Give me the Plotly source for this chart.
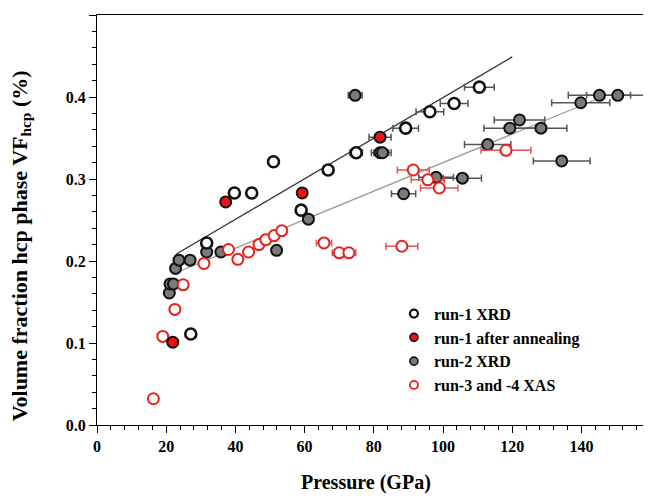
import plotly.graph_objects as go

# ---- data ----
run1_p = [27.1, 31.7, 39.7, 44.7, 51.0, 59.0, 66.8, 74.9, 89.2, 96.2, 103.2, 110.5]
run1_v = [0.111, 0.222, 0.283, 0.283, 0.321, 0.262, 0.311, 0.332, 0.362, 0.382, 0.392, 0.412]
run1_e = [0, 0, 1.2, 0, 0, 0, 1.5, 1.8, 3.7, 4.0, 4.0, 4.3]

ann_p = [21.9, 37.2, 59.3, 81.8]
ann_v = [0.101, 0.272, 0.283, 0.351]
ann_e = [0, 0, 0, 3.2]

run2_p = [20.9, 21.1, 22.1, 22.7, 23.7, 26.9, 31.7, 35.8, 51.9, 61.1, 74.6, 81.8, 82.5,
          88.6, 98.0, 105.6, 112.9, 119.3, 122.1, 128.3, 134.3, 139.8, 145.2, 150.5]
run2_v = [0.161, 0.172, 0.172, 0.191, 0.201, 0.201, 0.211, 0.211, 0.213, 0.251, 0.402, 0.332, 0.332,
          0.282, 0.302, 0.301, 0.342, 0.362, 0.372, 0.362, 0.322, 0.393, 0.402, 0.402]
run2_e = [0, 0, 0, 0, 0, 0, 0, 0, 0, 0, 2.0, 2.5, 2.5,
          3.5, 5.0, 5.5, 6.7, 7.5, 7.3, 7.5, 8.2, 8.4, 9.0, 9.0]

xas_p = [16.3, 19.0, 22.5, 24.9, 30.9, 38.0, 40.7, 43.8, 46.8, 48.8, 51.2, 53.4,
         65.6, 70.0, 72.8, 88.1, 91.4, 95.6, 98.9, 118.2]
xas_v = [0.032, 0.108, 0.141, 0.171, 0.197, 0.214, 0.202, 0.211, 0.220, 0.226, 0.231, 0.237,
         0.222, 0.210, 0.210, 0.218, 0.311, 0.299, 0.289, 0.335]
xas_e = [0, 0, 0, 0, 0, 0, 0, 0, 0, 0, 0, 0,
         2.2, 2.0, 2.0, 4.6, 4.6, 4.8, 5.4, 7.2]

fit1_p = [22.7, 120.0]
fit1_v = [0.208, 0.449]
fit2_p = [23.0, 146.0]
fit2_v = [0.186, 0.400]

legend_names = ["run-1 XRD", "run-1 after annealing", "run-2 XRD", "run-3 and -4 XAS"]
x_title = "Pressure (GPa)"
y_title = "Volume fraction hcp phase VF<sub>hcp</sub> (%)"

FONT = "Liberation Serif"

fig = go.Figure()

# fit lines
fig.add_trace(go.Scatter(x=fit1_p, y=fit1_v, mode="lines",
                         line=dict(color="#333333", width=1.3), showlegend=False, hoverinfo="skip"))
fig.add_trace(go.Scatter(x=fit2_p, y=fit2_v, mode="lines",
                         line=dict(color="#999999", width=1.3), showlegend=False, hoverinfo="skip"))

def err(arr, color):
    return dict(type="data", array=arr, visible=True, color=color, thickness=1.5, width=3.5)

fig.add_trace(go.Scatter(x=run2_p, y=run2_v, mode="markers", showlegend=False,
                         error_x=err(run2_e, "#555555"),
                         marker=dict(size=11, color="#7a7a7a", line=dict(color="#111111", width=2))))
fig.add_trace(go.Scatter(x=xas_p, y=xas_v, mode="markers", showlegend=False,
                         error_x=err(xas_e, "#dd5555"),
                         marker=dict(size=11, color="white", line=dict(color="#e8201c", width=2))))
fig.add_trace(go.Scatter(x=run1_p, y=run1_v, mode="markers", showlegend=False,
                         error_x=err(run1_e, "#555555"),
                         marker=dict(size=11, color="white", line=dict(color="#111111", width=2.6))))
fig.add_trace(go.Scatter(x=ann_p, y=ann_v, mode="markers", showlegend=False,
                         error_x=err(ann_e, "#555555"),
                         marker=dict(size=11, color="#ee1111", line=dict(color="#111111", width=2))))

# legend-only entries
leg_styles = [
    dict(size=8, color="white", line=dict(color="#111111", width=2.2)),
    dict(size=8, color="#ee1111", line=dict(color="#111111", width=1.6)),
    dict(size=8, color="#7a7a7a", line=dict(color="#111111", width=1.6)),
    dict(size=8, color="white", line=dict(color="#e8201c", width=1.8)),
]
for name, st in zip(legend_names, leg_styles):
    fig.add_trace(go.Scatter(x=[None], y=[None], mode="markers", name=name, marker=st))

# page body has an 8px margin: compensate so the plot area lands at x 97..651, y 15..425
fig.update_layout(
    width=651, height=500,
    margin=dict(l=89, r=8, t=7, b=83),
    paper_bgcolor="white", plot_bgcolor="white",
    font=dict(family=FONT, size=16, color="black", weight="bold"),
    legend=dict(x=0.536, y=0.313, xanchor="left", yanchor="top",
                bgcolor="rgba(0,0,0,0)", font=dict(family=FONT, size=16, weight="bold"),
                tracegroupgap=0, itemwidth=30),
    xaxis=dict(range=[0, 160.1], dtick=20, tick0=0, automargin=False,
               showline=True, linecolor="black", linewidth=1.3, mirror=True,
               ticks="outside", ticklen=7, tickwidth=1.2, tickcolor="black",
               showgrid=False, zeroline=False,
               minor=dict(dtick=4, ticks="outside", ticklen=4, tickwidth=1, tickcolor="black"),
               tickfont=dict(family=FONT, size=16, weight="bold")),
    yaxis=dict(range=[0, 0.5], dtick=0.1, tick0=0, tickformat=".1f", automargin=False,
               showline=True, linecolor="black", linewidth=1.3,
               ticks="outside", ticklen=7, tickwidth=1.2, tickcolor="black",
               showgrid=False, zeroline=False,
               minor=dict(dtick=0.02, ticks="outside", ticklen=4, tickwidth=1, tickcolor="black"),
               tickfont=dict(family=FONT, size=16, weight="bold")),
    annotations=[
        dict(text=x_title, xref="paper", yref="paper", x=0.486, y=-0.141,
             xanchor="center", yanchor="middle", showarrow=False,
             font=dict(family=FONT, size=20, weight="bold")),
        dict(text=y_title, xref="paper", yref="paper", x=-0.137, y=0.436,
             xanchor="center", yanchor="middle", showarrow=False, textangle=-90,
             font=dict(family=FONT, size=22, weight="bold")),
    ],
)

fig.write_html("out.html")
